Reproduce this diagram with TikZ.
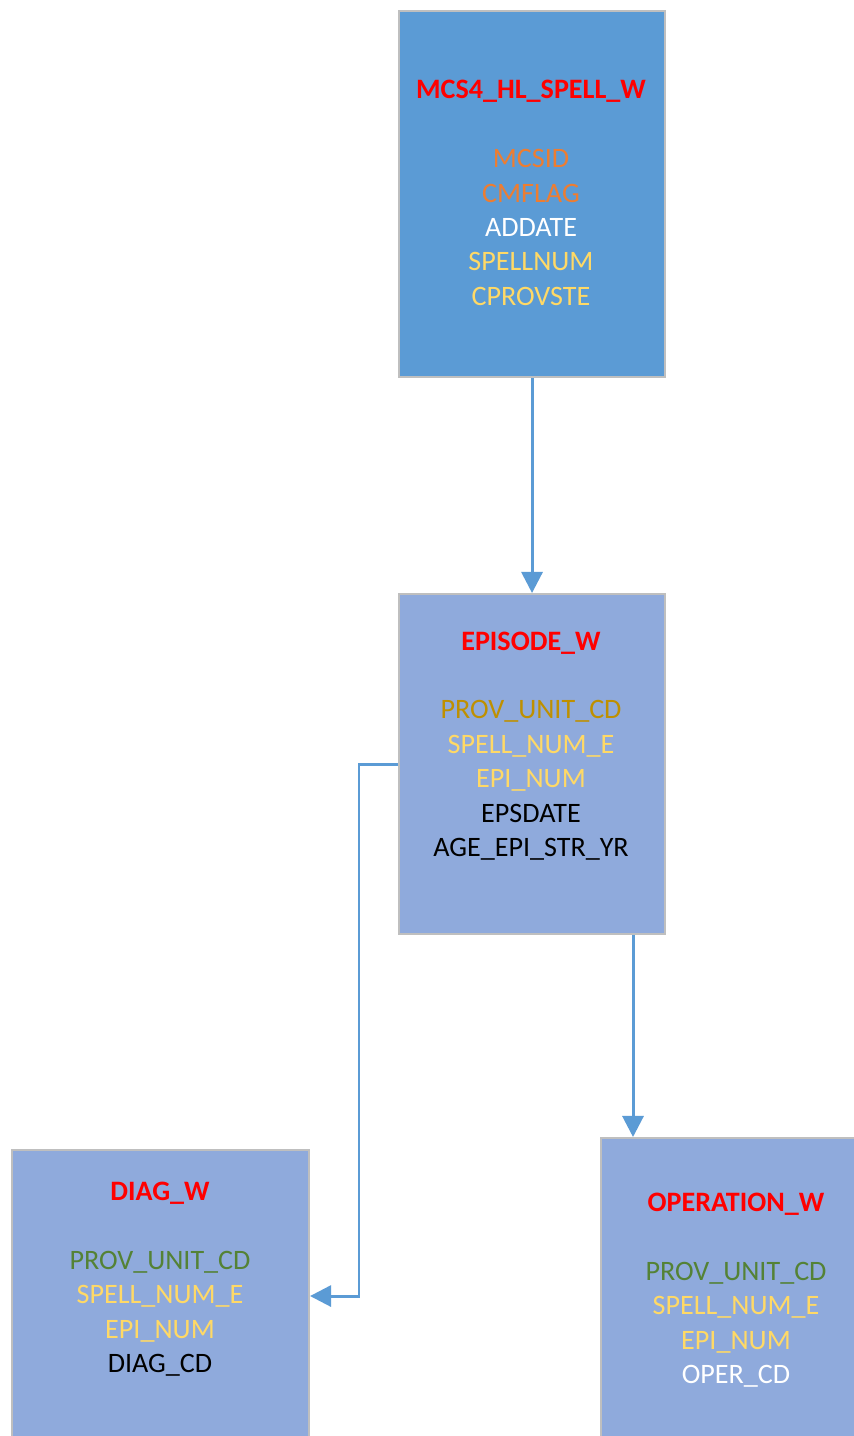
\documentclass[tikz,border=0pt]{standalone}
\usepackage{fontspec}
\setmainfont{Carlito}
\usetikzlibrary{arrows.meta}
\definecolor{boxblue}{HTML}{5B9BD5}
\definecolor{boxlight}{HTML}{8FAADC}
\definecolor{boxedge}{HTML}{BFBFBF}
\definecolor{keyorange}{HTML}{ED7D31}
\definecolor{keyyellow}{HTML}{FFD966}
\definecolor{keygold}{HTML}{BF9000}
\definecolor{keygreen}{HTML}{548235}
\tikzset{
  table/.style={draw=boxedge, line width=1.2pt, inner sep=0pt, anchor=north west},
  fields/.style={align=center, inner sep=0pt, font=\fontsize{16}{19.6}\selectfont},
  link/.style={draw=boxblue, line width=1.7pt, -{Triangle[width=12pt,length=12pt]}},
}
\newcommand{\tname}[1]{\textcolor{red}{\textbf{#1}}}
\begin{document}
\begin{tikzpicture}[x=0.02cm, y=-0.02cm]
        \clip (0,0) rectangle (854,1436);
        \fill[white] (0,0) rectangle (854,1436);
        % tables
        \node[table, fill=boxblue, minimum width=5.32cm, minimum height=7.32cm] (spell) at (398,10) {};
        \node[table, fill=boxlight, minimum width=5.32cm, minimum height=6.8cm] (episode) at (398,593) {};
        \node[table, fill=boxlight, minimum width=5.94cm, minimum height=5.84cm] (diag) at (11,1149) {};
        \node[table, fill=boxlight, minimum width=5.44cm, minimum height=6.8cm] (operation) at (600,1137) {};
        % fields
        \node[fields] (spell-f) at (531,193) {\tname{MCS4\_HL\_SPELL\_W}\\[\baselineskip]
            \textcolor{keyorange}{MCSID}\\ \textcolor{keyorange}{CMFLAG}\\ \textcolor{white}{ADDATE}\\
            \textcolor{keyyellow}{SPELLNUM}\\ \textcolor{keyyellow}{CPROVSTE}};
        \node[fields] (episode-f) at (531,746) {\tname{EPISODE\_W}\\[\baselineskip]
            \textcolor{keygold}{PROV\_UNIT\_CD}\\ \textcolor{keyyellow}{SPELL\_NUM\_E}\\ \textcolor{keyyellow}{EPI\_NUM}\\
            EPSDATE\\ AGE\_EPI\_STR\_YR};
        \node[fields] (diag-f) at (160,1279) {\tname{DIAG\_W}\\[\baselineskip]
            \textcolor{keygreen}{PROV\_UNIT\_CD}\\ \textcolor{keyyellow}{SPELL\_NUM\_E}\\ \textcolor{keyyellow}{EPI\_NUM}\\
            DIAG\_CD};
        \node[fields] (operation-f) at (736,1290) {\tname{OPERATION\_W}\\[\baselineskip]
            \textcolor{keygreen}{PROV\_UNIT\_CD}\\ \textcolor{keyyellow}{SPELL\_NUM\_E}\\ \textcolor{keyyellow}{EPI\_NUM}\\
            \textcolor{white}{OPER\_CD}};
        % links
        \draw[link] (spell.south) -- (episode.north);
        \draw[link] (episode.west) -- ++(-39,0) |- (diag.east);
        \coordinate (episode-out) at ([xshift=2.02cm]episode.south);
        \draw[link] (episode-out) -- (episode-out |- operation.north);
\end{tikzpicture}
\end{document}
